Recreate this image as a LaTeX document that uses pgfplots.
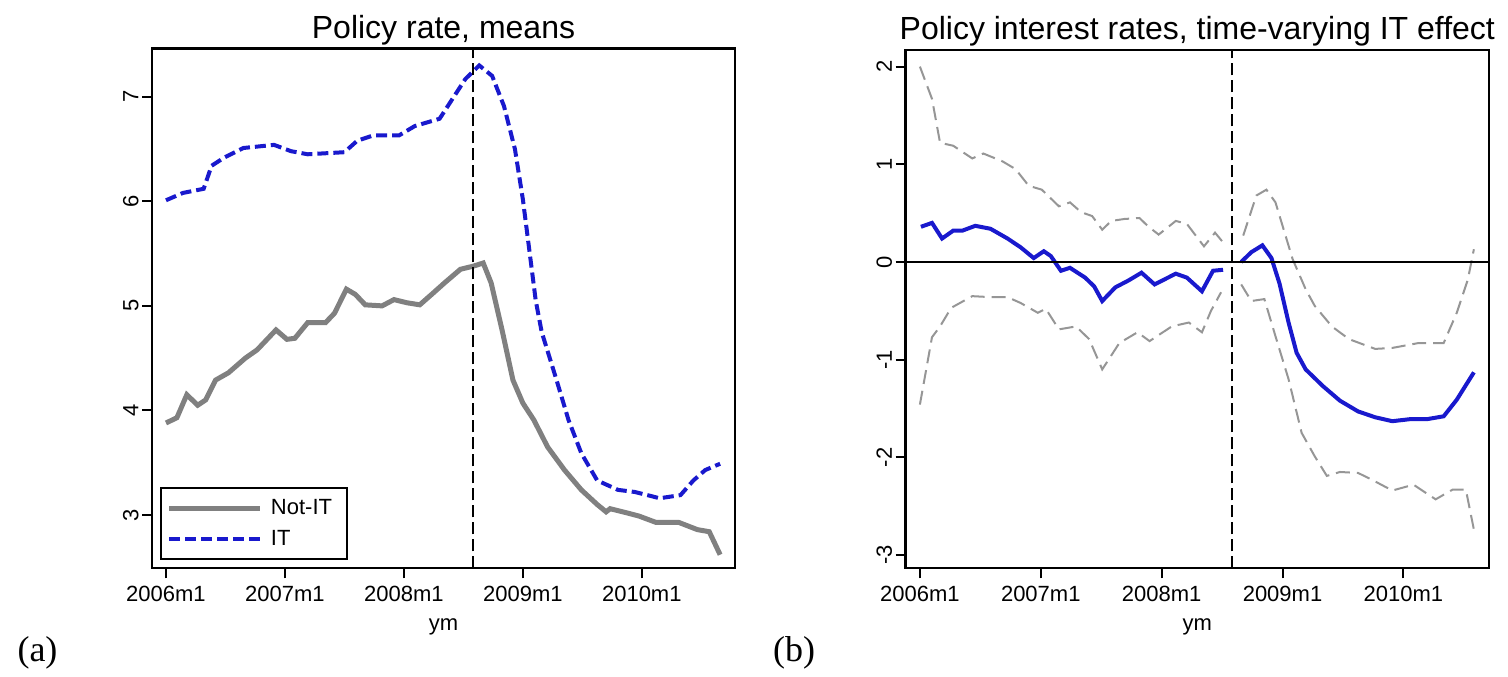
\documentclass[border=0pt]{standalone}
\usepackage{fontspec}
\setmainfont{Liberation Sans}
\newfontfamily\serifab{Liberation Serif}
\usepackage{pgfplots}
\pgfplotsset{compat=1.18}
\usepackage{pgfplotstable}
\definecolor{itblue}{RGB}{25,25,205}
\definecolor{notit}{RGB}{128,128,128}
\definecolor{cigray}{RGB}{150,150,150}

\pgfplotstableread{
m v
0 6.01
1.7 6.08
3.8 6.12
4.6 6.34
5.9 6.42
7.8 6.51
10.9 6.54
12.6 6.48
14.3 6.45
18 6.47
19.3 6.58
20.9 6.63
23.5 6.63
25.1 6.72
27.6 6.79
28.9 6.98
30.2 7.17
31.6 7.30
32.9 7.20
34.1 6.91
35.2 6.50
36.0 6.02
37.3 5.05
37.9 4.75
39.4 4.29
40.6 3.91
41.9 3.59
43.5 3.33
45.6 3.24
47.3 3.22
49.8 3.16
51.9 3.19
53.2 3.33
54.4 3.43
55.9 3.49
}\itdata

\pgfplotstableread{
m v
0 3.88
1.1 3.93
2.1 4.15
3.2 4.05
4 4.10
5 4.29
6.3 4.36
8 4.50
9.2 4.58
11.1 4.77
12.2 4.68
13 4.69
14.3 4.84
16.1 4.84
17 4.93
18.2 5.16
19.1 5.11
20.1 5.01
21.8 5.00
23 5.06
24.3 5.03
25.6 5.01
26.8 5.11
28.1 5.22
29.7 5.35
31 5.38
32 5.41
32.8 5.22
33.9 4.77
35 4.29
36 4.07
37.1 3.91
38.5 3.65
40.2 3.43
41.9 3.24
43.5 3.10
44.4 3.03
44.8 3.06
46.5 3.02
47.7 2.99
49.4 2.93
51.7 2.93
53.6 2.86
54.8 2.84
55.9 2.62
}\notitdata

\pgfplotstableread{
m v
0.1 0.36
1.2 0.40
2.2 0.24
3.3 0.32
4.2 0.32
5.5 0.37
7 0.34
8.7 0.24
10 0.15
11.3 0.04
12.3 0.11
13 0.06
14 -0.09
14.9 -0.06
16.4 -0.16
17.3 -0.25
18.1 -0.40
19.4 -0.26
20.7 -0.19
22 -0.11
23.3 -0.23
25.4 -0.12
26.5 -0.16
28 -0.30
29.1 -0.09
30.1 -0.08
31 nan
31.9 0.00
32.9 0.10
34 0.17
34.9 0.04
35.7 -0.22
36.6 -0.62
37.4 -0.93
38.3 -1.10
40 -1.27
41.7 -1.42
43.5 -1.53
45.2 -1.59
46.9 -1.63
48.6 -1.61
50.3 -1.61
52 -1.58
53.3 -1.41
55 -1.13
}\effdata

\pgfplotstableread{
m v
0 2.0
1.2 1.67
2 1.22
3.3 1.19
5.2 1.06
6.3 1.11
8.2 1.03
9.5 0.95
10.8 0.78
12.1 0.74
13.8 0.57
14.9 0.61
16 0.51
17.1 0.47
18.1 0.33
19 0.42
20.3 0.44
21.8 0.45
22.6 0.37
23.7 0.28
25.4 0.42
26.5 0.39
28.2 0.16
29.3 0.30
30.1 0.20
31 nan
32.1 0.27
33.4 0.68
34.4 0.74
35.3 0.61
37 0.03
38.3 -0.28
39.2 -0.45
40.9 -0.66
42.6 -0.79
45.2 -0.89
46.9 -0.88
49.5 -0.83
52 -0.83
53.3 -0.52
54.4 -0.18
55 0.13
}\updata

\pgfplotstableread{
m v
0 -1.46
1.2 -0.77
2 -0.66
3.1 -0.47
5.2 -0.35
7 -0.36
8.7 -0.36
10 -0.42
11.7 -0.52
12.5 -0.48
13.8 -0.69
15.5 -0.66
16.8 -0.79
18.1 -1.10
19.8 -0.83
21.6 -0.72
22.8 -0.81
25 -0.66
26.7 -0.62
28 -0.72
28.9 -0.50
29.9 -0.31
31 nan
31.9 -0.23
32.9 -0.40
34.2 -0.38
35.3 -0.76
36.6 -1.20
37.9 -1.75
39.2 -1.99
40.4 -2.19
41.7 -2.15
43.5 -2.16
44.7 -2.22
46.9 -2.34
49 -2.28
51.2 -2.43
52.9 -2.33
54.2 -2.33
55 -2.74
}\lodata

\pgfplotsset{
  stataax/.style={
    scale only axis,
    axis line style={line width=2.4pt},
    tick style={line width=2pt, black},
    tick align=outside,
    major tick length=10pt,
    xtick={0,12,24,36,48},
    xticklabels={2006m1,2007m1,2008m1,2009m1,2010m1},
    xtick pos=bottom, ytick pos=left,
    ticklabel style={font=\fontsize{22}{24}\selectfont},
    xticklabel style={yshift=-4pt},
    yticklabel style={rotate=90, anchor=south},
    xlabel={ym},
    xlabel style={font=\fontsize{22}{24}\selectfont, yshift=-10pt},
    title style={font=\fontsize{32}{36}\selectfont, yshift=-6pt},
    unbounded coords=jump,
    legend image code/.code={\draw[#1] (0pt,0pt) -- (91pt,0pt); \path (97pt,0pt);},
  }
}

\begin{document}
\begin{tikzpicture}[x=1pt,y=1pt]
\useasboundingbox (0,0) rectangle (1508,677);

\begin{axis}[stataax,
  at={(152pt,108.7pt)}, anchor=south west,
  width=583pt, height=519.6pt,
  xmin=-1.41, xmax=57.4, ymin=2.49, ymax=7.46,
  ytick={3,4,5,6,7}, yticklabels={3,4,5,6,7},
  title={Policy rate, means},
  legend style={at={(0.0137,0.016)}, anchor=south west,
    draw=black, line width=2pt, font=\fontsize{22}{24}\selectfont,
    inner xsep=6pt, inner ysep=10pt, row sep=10pt,
    nodes={inner sep=2pt}},
  legend cell align=left,
  legend style={text width=68pt},
]
\addplot[notit, line width=5pt] table[x=m,y=v] {\notitdata};
\addlegendentry{Not-IT}
\addplot[itblue, line width=4pt, dash pattern=on 11pt off 5pt] table[x=m,y=v] {\itdata};
\addlegendentry{IT}
\addplot[black, line width=2pt, dash pattern=on 12pt off 5pt, forget plot] coordinates {(31,2.49) (31,7.46)};
\end{axis}

\begin{axis}[stataax,
  at={(905.5pt,108.7pt)}, anchor=south west,
  width=583.5pt, height=518.3pt,
  xmin=-1.43, xmax=56.5, ymin=-3.136, ymax=2.17,
  ytick={-3,-2,-1,0,1,2}, yticklabels={-3,-2,-1,0,1,2},
  title={Policy interest rates, time-varying IT effect},
]
\addplot[cigray, line width=2pt, dash pattern=on 14pt off 7pt] table[x=m,y=v] {\updata};
\addplot[cigray, line width=2pt, dash pattern=on 14pt off 7pt] table[x=m,y=v] {\lodata};
\addplot[itblue, line width=4pt] table[x=m,y=v] {\effdata};
\addplot[black, line width=1.8pt] coordinates {(-1.43,0) (56.5,0)};
\addplot[black, line width=2pt, dash pattern=on 12pt off 5pt] coordinates {(31,-3.136) (31,2.17)};
\end{axis}

\node[font=\serifab\fontsize{36}{40}\selectfont, anchor=base] at (37.5,15) {(a)};
\node[font=\serifab\fontsize{36}{40}\selectfont, anchor=base] at (794,15) {(b)};
\end{tikzpicture}
\end{document}
